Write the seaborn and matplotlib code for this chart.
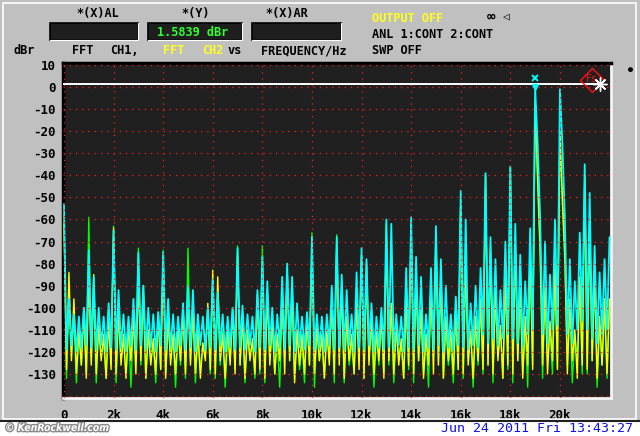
import numpy as np
import pandas as pd
import matplotlib
matplotlib.use("Agg")
import matplotlib.pyplot as plt
import seaborn as sns
from matplotlib.patches import Rectangle
import matplotlib.patheffects as pe

# ---------------- data (dBr per 100 Hz bin, 0 .. 22 kHz) ----------------
bin_step_hz = 100
cyan_db = [
    -53, -119, -96, -117, -103, -120, -104, -118, -100, -117,
    -74, -118, -86, -119, -100, -117, -104, -120, -98, -118,
    -65, -119, -92, -118, -103, -120, -104, -117, -96, -119,
    -75, -117, -90, -119, -100, -118, -103, -120, -102, -117,
    -75, -119, -96, -118, -103, -120, -104, -117, -98, -119,
    -90, -118, -92, -120, -103, -117, -104, -119, -100, -118,
    -87, -119, -93, -117, -103, -120, -104, -118, -100, -119,
    -73, -118, -99, -119, -103, -117, -104, -120, -92, -118,
    -77, -119, -88, -117, -100, -120, -103, -118, -86, -119,
    -80, -117, -86, -120, -98, -118, -104, -119, -102, -117,
    -68, -119, -103, -118, -104, -120, -103, -117, -90, -119,
    -68, -118, -85, -119, -92, -117, -103, -120, -84, -118,
    -73, -119, -78, -117, -98, -120, -104, -118, -100, -119,
    -60, -118, -62, -119, -103, -117, -104, -120, -82, -118,
    -59, -119, -77, -117, -86, -120, -103, -118, -82, -119,
    -63, -117, -78, -120, -90, -118, -103, -119, -95, -117,
    -47, -118, -60, -119, -98, -117, -90, -118, -82, -112,
    -39, -116, -68, -114, -78, -117, -92, -114, -70, -112,
    -36, -114, -62, -116, -76, -117, -88, -112, -64, -110,
    0, -25, -58, -112, -70, -116, -85, -110, -60, -108,
    -1, -26, -60, -112, -78, -116, -88, -110, -66, -106,
    -35, -110, -48, -114, -72, -116, -84, -112, -78, -110,
    -68,
]
yellow_db = [
    -62, -128, -84, -124, -96, -130, -110, -126, -100, -132,
    -86, -126, -85, -130, -108, -124, -112, -132, -106, -128,
    -64, -130, -100, -126, -112, -132, -108, -124, -104, -130,
    -88, -124, -90, -132, -110, -126, -114, -130, -104, -128,
    -80, -132, -104, -126, -112, -130, -108, -124, -102, -130,
    -96, -126, -100, -130, -110, -132, -116, -124, -98, -128,
    -83, -130, -86, -124, -112, -132, -108, -126, -100, -130,
    -76, -126, -104, -132, -110, -124, -114, -130, -94, -128,
    -82, -132, -92, -126, -106, -130, -112, -124, -94, -130,
    -82, -124, -90, -134, -110, -126, -112, -130, -104, -126,
    -74, -130, -108, -124, -112, -132, -110, -126, -96, -130,
    -72, -126, -90, -132, -104, -124, -112, -130, -96, -128,
    -77, -132, -80, -126, -104, -130, -110, -124, -104, -132,
    -68, -124, -98, -130, -108, -126, -114, -132, -96, -126,
    -66, -130, -86, -124, -100, -132, -112, -126, -90, -130,
    -70, -126, -84, -132, -104, -124, -110, -130, -100, -128,
    -52, -130, -78, -126, -110, -132, -104, -124, -96, -128,
    -40, -126, -74, -130, -92, -124, -108, -132, -84, -126,
    -36, -130, -70, -124, -90, -132, -104, -126, -74, -128,
    -6, -40, -72, -126, -90, -130, -106, -124, -80, -128,
    -20, -50, -76, -130, -96, -124, -110, -132, -86, -126,
    -40, -128, -60, -124, -84, -132, -104, -126, -96, -130,
    -96,
]
green_db = [
    -58, -132, -98, -122, -104, -134, -112, -126, -104, -130,
    -59, -124, -94, -134, -108, -122, -116, -132, -100, -126,
    -63, -134, -104, -124, -114, -130, -110, -136, -106, -122,
    -73, -126, -96, -132, -112, -124, -116, -134, -102, -128,
    -74, -130, -108, -122, -114, -136, -110, -126, -98, -132,
    -73, -124, -102, -134, -112, -128, -116, -122, -102, -130,
    -90, -132, -98, -126, -110, -136, -114, -124, -104, -128,
    -72, -126, -106, -134, -112, -122, -116, -132, -98, -130,
    -72, -134, -96, -124, -108, -130, -114, -136, -100, -122,
    -84, -124, -96, -132, -112, -128, -116, -134, -106, -126,
    -66, -136, -110, -124, -114, -132, -112, -122, -100, -134,
    -67, -122, -94, -134, -106, -126, -116, -130, -100, -124,
    -76, -132, -86, -124, -108, -136, -112, -126, -104, -130,
    -62, -126, -100, -134, -110, -122, -116, -132, -100, -128,
    -62, -134, -90, -124, -104, -130, -112, -136, -96, -122,
    -66, -124, -90, -132, -108, -126, -116, -134, -104, -128,
    -52, -132, -84, -124, -110, -136, -106, -126, -100, -130,
    -46, -126, -78, -134, -96, -122, -110, -132, -90, -128,
    -42, -134, -74, -124, -94, -130, -108, -136, -80, -126,
    -8, -44, -76, -132, -94, -124, -110, -130, -86, -128,
    -24, -54, -80, -126, -100, -134, -112, -124, -90, -130,
    -44, -130, -66, -124, -88, -136, -108, -126, -100, -132,
    -100,
]
trace_names = ["CH1 green", "CH2 yellow", "CH2 cyan"]
trace_colors = ["#00ff00", "#ffff00", "#00ffff"]
trace_widths = [1.0, 1.0, 1.3]

x_ticks = [0, 2000, 4000, 6000, 8000, 10000, 12000, 14000, 16000, 18000, 20000]
x_labels = ["0", "2k", "4k", "6k", "8k", "10k", "12k", "14k", "16k", "18k", "20k"]
y_ticks = [10, 0, -10, -20, -30, -40, -50, -60, -70, -80, -90, -100, -110, -120, -130]
y_grid = y_ticks + [-140]

cursor_db = 1.5839
marker_freq = 19000
fs_marker_freq = 21300
fs_marker_db = 3.2
end_marker_freq = 21620
cursor_text = "1.5839 dBr"
date_text = "Jun 24 2011 Fri 13:43:27"

# ---------------- figure ----------------
W, H = 640, 436
MONO = "DejaVu Sans Mono"
sns.set_style("white")
plt.rcParams["font.family"] = ["DejaVu Sans Mono", "DejaVu Sans"]

fig = plt.figure(figsize=(W / 100, H / 100), dpi=100, facecolor="#c0c0c0")


def fx(x):
    return x / W


def fy(y):
    return 1 - y / H


# outer frame and bottom strip
fig.patches.append(Rectangle((fx(3), fy(419)), fx(633), 416 / H, transform=fig.transFigure,
                             fill=False, ec="white", lw=1.2))
fig.patches.append(Rectangle((0, 0), 1, 15 / H, transform=fig.transFigure,
                             fc="white", ec="none"))
fig.lines.append(plt.Line2D([0, 1], [fy(420.5), fy(420.5)], transform=fig.transFigure,
                            color="#202020", lw=1.5))

ax = fig.add_axes([fx(63), fy(398), (611 - 63) / W, (398 - 63) / H])
ax.set_facecolor("#202020")

freq_hz = np.arange(len(cyan_db)) * bin_step_hz
series = [green_db, yellow_db, cyan_db]
for name, vals, col, lw in zip(trace_names, series, trace_colors, trace_widths):
    d = pd.DataFrame({"freq": freq_hz, "db": vals})
    sns.lineplot(data=d, x="freq", y="db", color=col, estimator=None, sort=False,
                 lw=lw, legend=False, ax=ax, zorder=3, label=name)

ax.set_xlim(-40, 22060)
ax.set_ylim(-140.9, 10.9)
if ax.get_legend() is not None:
    ax.get_legend().remove()

# dotted red grid
for gx in x_ticks:
    ax.axvline(gx, color="#ff1e1e", lw=0.9, ls=(0, (1, 4)), zorder=4)
for gy in y_grid:
    ax.axhline(gy, color="#ff1e1e", lw=0.9, ls=(0, (1, 4)), zorder=4)

# cursor line and markers
ax.axhline(cursor_db, xmin=0, xmax=0.978, color="white", lw=1.4, zorder=6)
ax.plot([marker_freq], [4.2], marker="x", color="#00ffff", ms=5, mew=1.4, zorder=7)
ax.plot([marker_freq], [-0.2], marker="v", color="#00ffff", ms=5, zorder=7)
ax.plot([fs_marker_freq], [fs_marker_db], marker="D", ms=12, mfc="none", mec="#ff1010",
        mew=1.0, zorder=7)
ax.text(fs_marker_freq, fs_marker_db + 0.5, "Fs", color="#ff1010", fontsize=7,
        ha="center", va="center", family=MONO, zorder=7)
ax.plot([end_marker_freq], [cursor_db], marker=(8, 2, 0), color="white", ms=10, mew=1.0,
        zorder=8)

ax.set_xticks(x_ticks, x_labels)
ax.set_yticks(y_ticks, [str(v) for v in y_ticks])
ax.tick_params(axis="both", length=0, labelsize=9, labelcolor="black")
ax.tick_params(axis="y", pad=5)
ax.tick_params(axis="x", pad=8)
for lab in ax.get_xticklabels() + ax.get_yticklabels():
    lab.set_fontweight("bold")
    lab.set_family(MONO)
ax.set_xlabel("")
ax.set_ylabel("")
for side in ["left", "top"]:
    ax.spines[side].set_color("black")
    ax.spines[side].set_linewidth(2.5)
for side in ["right", "bottom"]:
    ax.spines[side].set_color("#f4f4f4")
    ax.spines[side].set_linewidth(2)

# ---------------- header ----------------
for (x0, x1) in [(50, 138), (148, 242), (252, 341)]:
    fig.patches.append(Rectangle((fx(x0), fy(40)), (x1 - x0) / W, 17 / H,
                                 transform=fig.transFigure, fc="#1e1e1e", ec="black", lw=1.2))
    fig.lines.append(plt.Line2D([fx(x0), fx(x1), fx(x1)], [fy(40.5), fy(40.5), fy(23)],
                                transform=fig.transFigure, color="white", lw=0.8))

hdr = dict(family=MONO, fontsize=8.6, fontweight="bold", va="center")


def t(x, y, s, color="black", ha="left", **kw):
    d = dict(hdr)
    d.update(kw)
    fig.text(fx(x), fy(y), s, color=color, ha=ha, **d)


t(98, 14, "*(X)AL", ha="center")
t(196, 14, "*(Y)", ha="center")
t(287, 14, "*(X)AR", ha="center")
t(157, 32, cursor_text, color="#30ff30")
t(13, 51, "dBr")
t(72, 51, "FFT")
t(110, 51, "CH1,")
t(163, 51, "FFT", color="#ffff20")
t(202, 51, "CH2", color="#ffff20")
t(228, 51, "vs")
t(261, 51, "FREQUENCY/Hz")
t(372, 18, "OUTPUT OFF", color="#ffff20")
t(372, 34, "ANL 1:CONT 2:CONT")
t(372, 51, "SWP OFF")
t(491, 17, "∞", fontsize=10, ha="center")
t(505, 17, "◁", fontsize=8, ha="center")
t(630, 70, "●", fontsize=6, ha="center")

# ---------------- footer ----------------
fig.text(fx(5), fy(428), "© KenRockwell.com", color="white", fontsize=7.5,
         fontweight="bold", style="italic", family="DejaVu Sans", fontstretch="condensed",
         va="center", path_effects=[pe.withStroke(linewidth=2, foreground="#8a8a8a")])
fig.text(fx(633), fy(428), date_text, color="#1010e8", fontsize=9.6, family=MONO,
         ha="right", va="center")

fig.savefig("out.png", dpi=100, facecolor=fig.get_facecolor())
